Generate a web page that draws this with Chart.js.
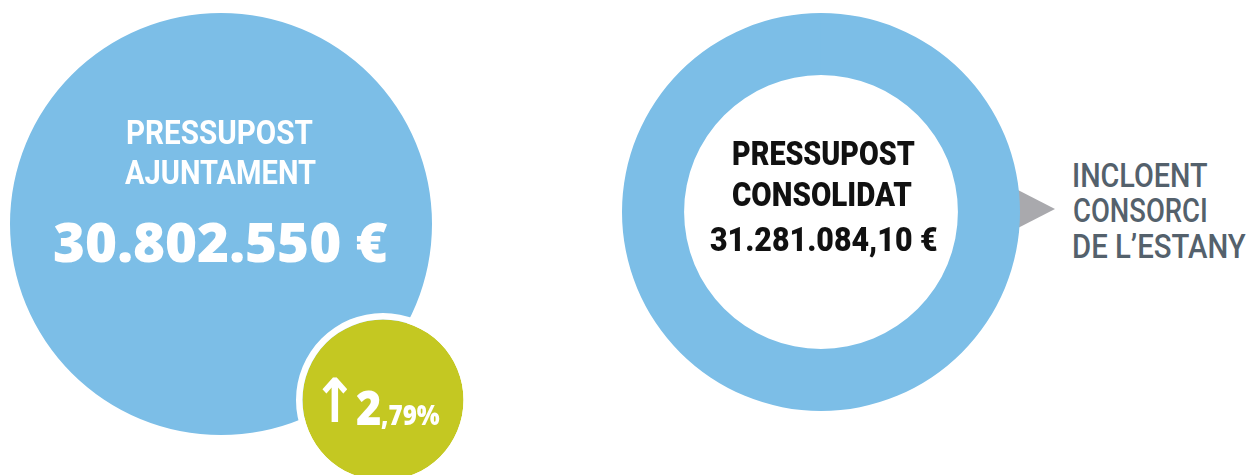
<!DOCTYPE html>
<html>
<head>
<meta charset="utf-8">
<script src="https://cdn.jsdelivr.net/npm/chart.js@4/dist/chart.umd.min.js"></script>
<style>
html, body { margin: 0; padding: 0; background: #fff; }
#stage { position: relative; width: 1248px; height: 475px; overflow: hidden; }
.box { position: absolute; }
.label { position: absolute; white-space: nowrap; transform-origin: 0 0; margin: 0; }
#pointer {
    position: absolute; left: 1012px; top: 186.7px; width: 0; height: 0;
    border-top: 22.8px solid transparent; border-bottom: 22.8px solid transparent;
    border-left: 43px solid #a9a9ad;
}
</style>
</head>
<body>
<div id="stage">
    <div id="pointer"></div>
    <div class="box" style="left:10px; top:13px; width:422px; height:422px;"><canvas id="bigCanvas"></canvas></div>
    <div class="box" style="left:296px; top:313px; width:174px; height:174px;"><canvas id="changeCanvas"></canvas></div>
    <div class="box" style="left:622px; top:13px; width:398px; height:398px;"><canvas id="ringCanvas"></canvas></div>
</div>
<script>
// budget figures (euros) and the year-on-year change (%)
var budgetLabels = ["Pressupost Ajuntament", "Pressupost consolidat"];
var budgetValues = [30802550, 31281084.10];
var changeLabels = ["Variació"];
var changeValues = [2.79];

// text shown on the picture
var titleLines = [["PRESSUPOST", "AJUNTAMENT"], ["PRESSUPOST", "CONSOLIDAT"]];
var noteLines = ["INCLOENT", "CONSORCI", "DE L\u2019ESTANY"];

var BLUE = "#7cbee7";
var GREEN = "#c4c822";

var measureCtx = document.createElement("canvas").getContext("2d");

function formatAmount(value, decimals) {
    var parts = value.toFixed(decimals).split(".");
    var intPart = parts[0].replace(/\B(?=(\d{3})+(?!\d))/g, ".");
    return intPart + (decimals ? "," + parts[1] : "") + " \u20ac";
}

// put a text so that its ink box lands on (left, top, width, height)
function placeLabel(text, family, weight, color, left, top, width, height, glyph) {
    glyph = glyph || "H";
    measureCtx.font = weight + " 100px " + family;
    var g = measureCtx.measureText(glyph);
    var size = height / (g.actualBoundingBoxAscent + g.actualBoundingBoxDescent) * 100;
    measureCtx.font = weight + " " + size + "px " + family;
    g = measureCtx.measureText(glyph);
    var m = measureCtx.measureText(text);
    var inkWidth = m.actualBoundingBoxLeft + m.actualBoundingBoxRight;
    var s = width / inkWidth;
    var baselineY = top + g.actualBoundingBoxAscent;
    var baselineOffset = (size - (m.fontBoundingBoxAscent + m.fontBoundingBoxDescent)) / 2 + m.fontBoundingBoxAscent;

    var div = document.createElement("div");
    div.className = "label";
    div.textContent = text;
    div.style.fontFamily = family;
    div.style.fontWeight = weight;
    div.style.fontSize = size + "px";
    div.style.lineHeight = size + "px";
    div.style.color = color;
    div.style.left = (left + s * m.actualBoundingBoxLeft) + "px";
    div.style.top = (baselineY - baselineOffset) + "px";
    div.style.transform = "scaleX(" + s + ")";
    document.getElementById("stage").appendChild(div);
}

function makeCircle(id, size, labels, datasets, cutout) {
    var canvas = document.getElementById(id);
    canvas.width = size;
    canvas.height = size;
    return new Chart(canvas, {
        type: "doughnut",
        data: { labels: labels, datasets: datasets },
        options: {
            responsive: false,
            animation: false,
            events: [],
            cutout: cutout,
            layout: { padding: 0 },
            plugins: { legend: { display: false }, tooltip: { enabled: false } }
        }
    });
}

window.addEventListener("load", function() {
    makeCircle("bigCanvas", 422, [budgetLabels[0]], [{
        data: [budgetValues[0]], backgroundColor: [BLUE], borderWidth: 0, hoverOffset: 0
    }], 0);

    makeCircle("changeCanvas", 174, changeLabels, [
        { data: [changeValues[0]], backgroundColor: ["#ffffff"], borderWidth: 0, weight: 6.5 },
        { data: [changeValues[0]], backgroundColor: [GREEN], borderWidth: 0, weight: 80.5 }
    ], 0);

    makeCircle("ringCanvas", 398, [budgetLabels[1]], [{
        data: [budgetValues[1]], backgroundColor: [BLUE], borderWidth: 0, hoverOffset: 0
    }], "68.8%");

    var cond = "Roboto";
    var round = "'Open Sans'";

    placeLabel(titleLines[0][0], cond, 700, "#fff", 128, 120, 185, 24.5);
    placeLabel(titleLines[0][1], cond, 700, "#fff", 125, 160.5, 191, 24.5);
    placeLabel(formatAmount(budgetValues[0], 0), round, 800, "#fff", 54, 223, 333, 40);

    var pct = changeValues[0].toFixed(2).split(".");
    placeLabel("\u2191", "'DejaVu Sans'", 700, "#fff", 322, 377, 26, 45, "\u2191");
    placeLabel(pct[0], round, 800, "#fff", 357, 392, 23, 34);
    placeLabel("," + pct[1] + "%", round, 800, "#fff", 381, 405, 59, 20, "7");

    placeLabel(titleLines[1][0], cond, 900, "#111", 733, 141, 182, 24);
    placeLabel(titleLines[1][1], cond, 900, "#111", 733, 182, 179, 24);
    placeLabel(formatAmount(budgetValues[1], 2), cond, 900, "#111", 710, 227.5, 227, 24.5);

    placeLabel(noteLines[0], cond, 500, "#54616c", 1074, 163.5, 134, 23.5);
    placeLabel(noteLines[1], cond, 500, "#54616c", 1074, 198.5, 132, 23.5);
    placeLabel(noteLines[2], cond, 500, "#54616c", 1074, 234.5, 172, 23.5);
});
</script>
</body>
</html>
